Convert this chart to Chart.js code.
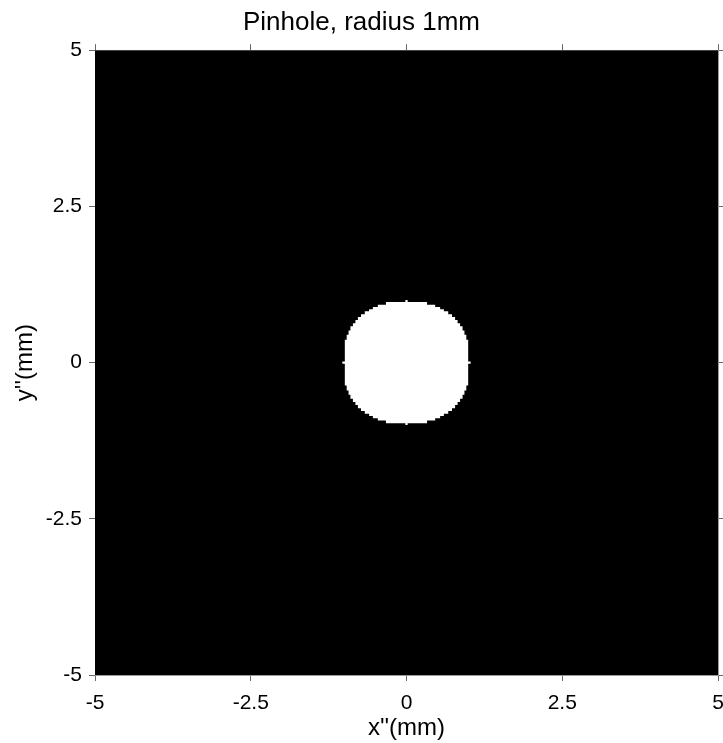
<!DOCTYPE html>
<html>
<head>
<meta charset="utf-8">
<title>Pinhole, radius 1mm</title>
<script src="https://cdn.jsdelivr.net/npm/chart.js@4/dist/chart.umd.min.js"></script>
<style>
	html, body { margin: 0; padding: 0; background: #fff; }
	#wrap { width: 723px; height: 743px; position: relative; }
</style>
</head>
<body>
<div id="wrap"><canvas id="chart"></canvas></div>
<script>
// 영역 / 눈금
var extent = [-5, 5];
var tickValues = [-5, -2.5, 0, 2.5, 5];

// 원 가장자리 계단 (1사분면, 그림에서 읽은 값, mm)
var stepX = [0.33, 0.46, 0.54, 0.60, 0.67, 0.73, 0.78, 0.82, 0.86, 0.90, 0.93, 0.96, 0.99];
var stepY = [0.97, 0.925, 0.89, 0.855, 0.82, 0.775, 0.73, 0.68, 0.63, 0.58, 0.515, 0.445, 0.365];
// 축 위의 작은 돌기
var nubTip = [1.0, 1.03];   // [위쪽 y, 오른쪽 x]
var nubHalf = 0.018;

// 1사분면 윤곽
var quarter = [{x: 0, y: nubTip[0]}, {x: nubHalf, y: nubTip[0]}, {x: nubHalf, y: stepY[0]}];
for (var i = 0; i < stepX.length; i++) {
	quarter.push({x: stepX[i], y: stepY[i]});
	quarter.push({x: stepX[i], y: i + 1 < stepY.length ? stepY[i + 1] : nubHalf});
}
quarter.push({x: nubTip[1], y: nubHalf});
quarter.push({x: nubTip[1], y: 0});

// 대칭으로 전체 윤곽
var rev = quarter.slice().reverse();
var outline = []
	.concat(quarter)
	.concat(rev.map(function (p) { return {x: p.x, y: -p.y}; }))
	.concat(quarter.map(function (p) { return {x: -p.x, y: -p.y}; }))
	.concat(rev.map(function (p) { return {x: -p.x, y: p.y}; }));

var mask = [
	{x: extent[0], y: extent[0]}, {x: extent[1], y: extent[0]},
	{x: extent[1], y: extent[1]}, {x: extent[0], y: extent[1]}
];

Chart.defaults.font.family = '"Liberation Sans", Arial, Helvetica, sans-serif';
Chart.defaults.color = '#000';

var tickCb = function (v) { return String(v); };
var fixTicks = function (axis) {
	axis.ticks = tickValues.map(function (v) { return {value: v}; });
};
// 축 크기 고정 (라벨 넘침 여백 제거)
var fitH = function (h) {
	return function (s) { s.height = h; s.paddingLeft = 0; s.paddingRight = 0; };
};
var fitW = function (w) {
	return function (s) { s.width = w; s.paddingTop = 0; s.paddingBottom = 0; };
};

new Chart(document.getElementById('chart'), {
	type: 'scatter',
	data: {
		datasets: [
			{
				label: 'pinhole',
				data: outline,
				showLine: true,
				fill: 'shape',
				backgroundColor: '#fff',
				borderColor: 'rgba(0,0,0,0)',
				borderWidth: 0,
				pointRadius: 0,
				tension: 0,
				order: 0
			},
			{
				label: 'screen',
				data: mask,
				showLine: true,
				fill: 'shape',
				backgroundColor: '#000',
				borderColor: 'rgba(0,0,0,0)',
				borderWidth: 0,
				pointRadius: 0,
				order: 1
			}
		]
	},
	options: {
		responsive: true,
		maintainAspectRatio: false,
		animation: false,
		layout: { padding: 0 },
		plugins: {
			legend: { display: false },
			tooltip: { enabled: false },
			title: {
				display: true,
				text: 'Pinhole, radius 1mm',
				font: { size: 26, weight: 'normal' },
				color: '#000',
				padding: { top: 7, bottom: 6 }
			}
		},
		scales: {
			x: {
				type: 'linear', position: 'bottom',
				min: extent[0], max: extent[1],
				afterBuildTicks: fixTicks,
				afterFit: fitH(68),
				ticks: { callback: tickCb, font: { size: 21 }, padding: 10, maxRotation: 0, autoSkip: false },
				grid: { drawOnChartArea: false, tickLength: 6, color: '#666' },
				border: { color: '#999' },
				title: { display: true, text: "x''(mm)", font: { size: 24 }, padding: 0 }
			},
			x2: {
				type: 'linear', position: 'top',
				min: extent[0], max: extent[1],
				afterBuildTicks: fixTicks,
				afterFit: fitH(6),
				ticks: { display: false },
				grid: { drawOnChartArea: false, tickLength: 6, color: '#666' },
				border: { color: '#999' }
			},
			y: {
				type: 'linear', position: 'left',
				min: extent[0], max: extent[1],
				afterBuildTicks: fixTicks,
				afterFit: fitW(95),
				ticks: { callback: tickCb, font: { size: 21 }, padding: 7, autoSkip: false },
				grid: { drawOnChartArea: false, tickLength: 6, color: '#666' },
				border: { color: '#999' },
				title: { display: true, text: "y''(mm)", font: { size: 24 }, padding: { top: 11, bottom: 0 } }
			},
			y2: {
				type: 'linear', position: 'right',
				min: extent[0], max: extent[1],
				afterBuildTicks: fixTicks,
				afterFit: fitW(5),
				ticks: { display: false },
				grid: { drawOnChartArea: false, tickLength: 6, color: '#666' },
				border: { color: '#999' }
			}
		}
	}
});
</script>
</body>
</html>
